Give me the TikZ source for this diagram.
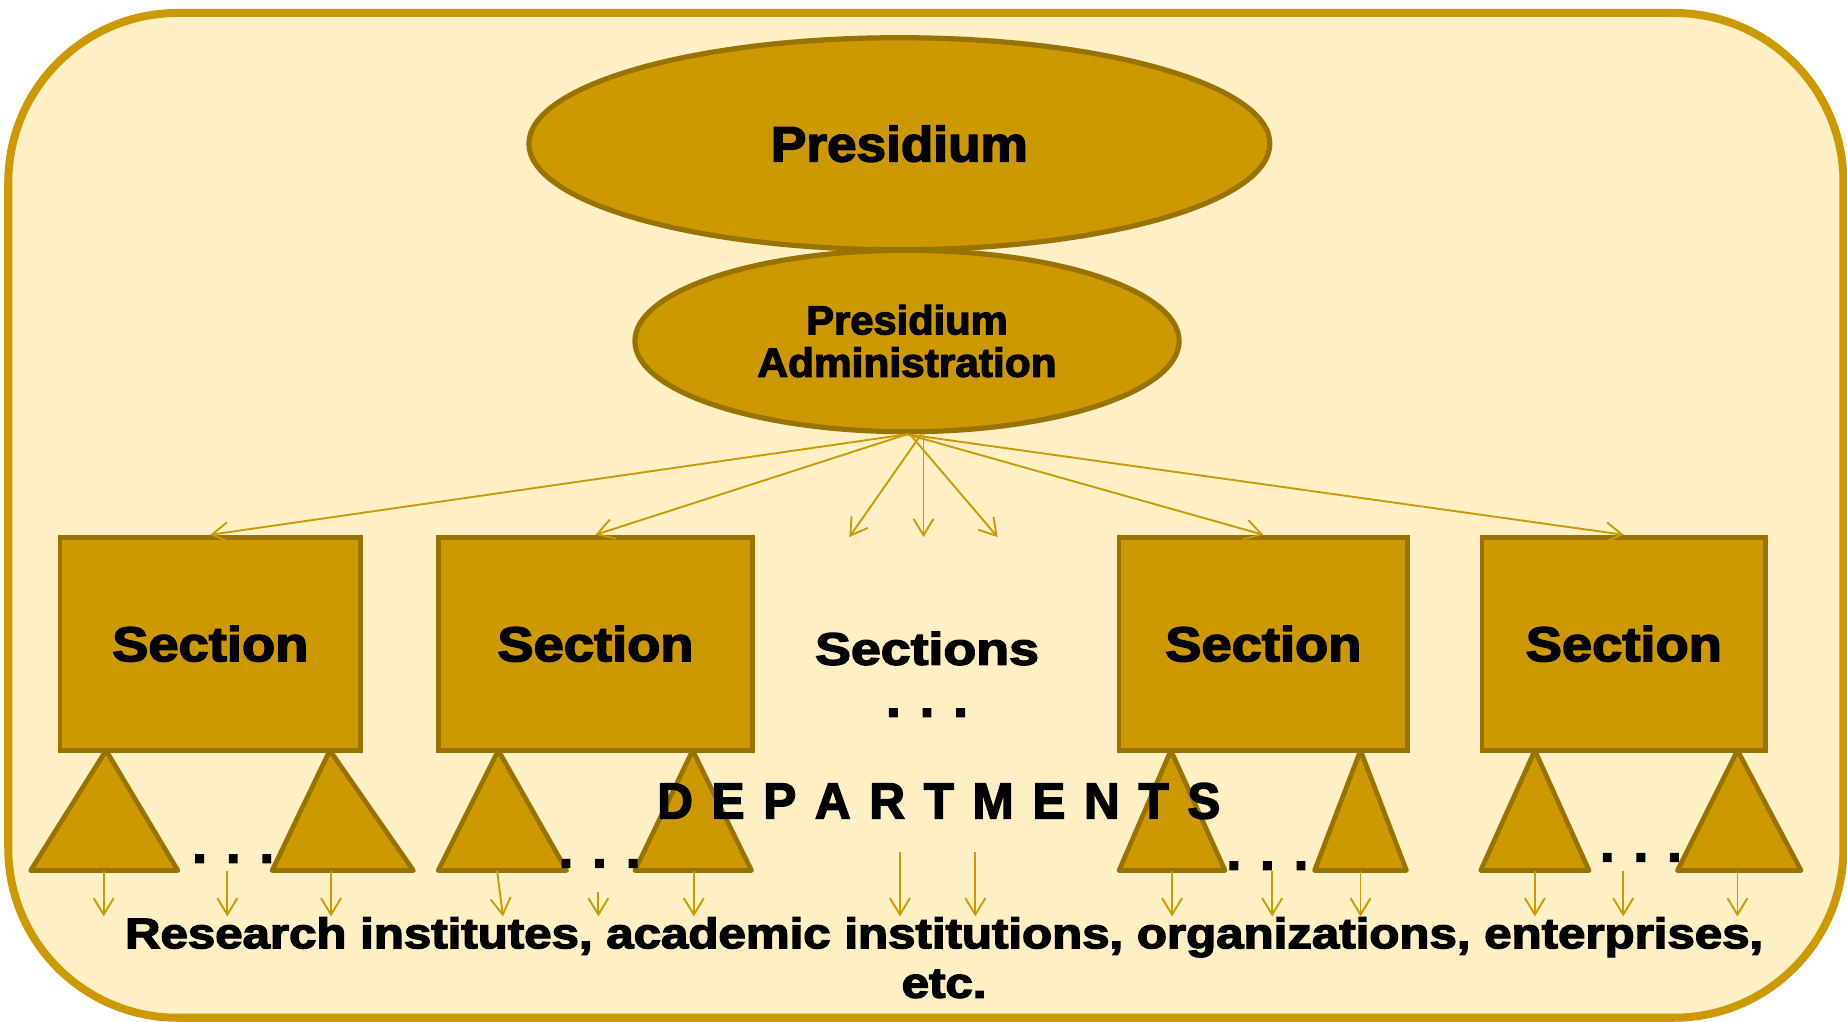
\documentclass[tikz,border=0pt]{standalone}
\usepackage{fontspec}
\usetikzlibrary{shapes.geometric,arrows.meta}
\newfontfamily\heavy[FakeBold=3]{Liberation Sans Bold}
\definecolor{paper}{HTML}{FEF0C4}
\definecolor{gold}{HTML}{CC9900}
\definecolor{umber}{HTML}{997300}
\begin{document}
\begin{tikzpicture}[x=0.5pt,y=-0.5pt,
  oval/.style={ellipse,draw=umber,fill=gold,line width=2.2pt,inner sep=0pt,font=\heavy},
  secbox/.style={rectangle,draw=umber,fill=gold,line width=2pt,inner sep=0pt,
                 minimum height=90.5pt,font=\heavy},
  dept/.style={draw=umber,fill=gold,line width=2pt,line join=round},
  link/.style={draw=gold,line width=0.8pt,-{Straight Barb[length=7pt,width=8.5pt]}},
  lbl/.style={inner sep=0pt,font=\heavy},
  dots/.style={inner sep=0pt,font=\heavy\fontsize{22}{22}\selectfont}]

\useasboundingbox (0,0) rectangle (1568,867);
% outer frame
\draw[gold,fill=paper,line width=3.4pt,rounded corners=72pt] (7,11) rectangle (1565,864);

% top of the hierarchy
\node[oval,minimum width=314.5pt,minimum height=90pt] (pres) at (763.5,122)
  {\resizebox{109pt}{15.25pt}{Presidium}};
\node[oval,minimum width=231pt,minimum height=77pt,align=center,
      font=\heavy\fontsize{15}{18}\selectfont] (adm) at (770,289.5)
  {\resizebox{85.5pt}{12.5pt}{Presidium}\\\resizebox{127pt}{12.5pt}{Administration}};

% sections
\node[secbox,minimum width=127.5pt] (s1) at (178.5,546.5) {\resizebox{83.25pt}{15pt}{Section}};
\node[secbox,minimum width=133.5pt] (s2) at (505.5,546.5) {\resizebox{83.25pt}{15pt}{Section}};
\node[secbox,minimum width=122.5pt] (s3) at (1072.5,546.5) {\resizebox{83.25pt}{15pt}{Section}};
\node[secbox,minimum width=120.5pt] (s4) at (1378.5,546.5) {\resizebox{83.25pt}{15pt}{Section}};
\node[lbl] (secs) at (787,550.5) {\resizebox{95pt}{14pt}{Sections}};
\node[dots] (secdots) at (787,605) {. . .};

% departments under each section
\draw[dept] (26,739) -- (90,637) -- (151,739) -- cycle;
\draw[dept] (231,739) -- (280,637) -- (351,739) -- cycle;
\draw[dept] (372,739) -- (423,637) -- (481,739) -- cycle;
\draw[dept] (539,739) -- (588,637) -- (638,739) -- cycle;
\draw[dept] (950,739) -- (994,637) -- (1040,739) -- cycle;
\draw[dept] (1116,739) -- (1155,637) -- (1194,739) -- cycle;
\draw[dept] (1257,739) -- (1303,637) -- (1349,739) -- cycle;
\draw[dept] (1424,739) -- (1475,637) -- (1529,739) -- cycle;

\node[dots] (g1) at (198,729) {. . .};
\node[dots] (g2) at (509,733) {. . .};
\node[dots] (g3) at (1076,735) {. . .};
\node[dots] (g4) at (1393,728) {. . .};

\node[lbl] (dep) at (797,680)
  {\resizebox{239pt}{15pt}{D\kern.38em E\kern.38em P\kern.38em A\kern.38em R\kern.38em T\kern.38em M\kern.38em E\kern.38em N\kern.38em T\kern.38em S}};

% links from the administration
\draw[link] (adm.south) -- (s1.north);
\draw[link] (adm.south) -- (s2.north);
\draw[link] (adm.south) -- (s3.north);
\draw[link] (adm.south) -- (s4.north);
\coordinate (m1) at (721,456);
\coordinate (m2) at (784,456);
\coordinate (m3) at (847,456);
\draw[link] ([xshift=6pt]adm.south) -- (m1);
\draw[link] ([xshift=7pt]adm.south) -- (m2);
\draw[link] ([xshift=1.25pt]adm.south) -- (m3);

% links down to the institutions
\foreach \x/\y/\u [count=\i] in {88/739/88,193/739/193,281/739/281,422/739/427,
    508/757/508,589/739/589,764/723/764,828/723/828,995/739/995,1080/739/1080,
    1155/739/1155,1303/739/1303,1378/739/1378,1475/739/1475}{
  \coordinate (a\i) at (\x,\y);
  \coordinate (b\i) at (\u,778);
  \draw[link] (a\i) -- (b\i);
}

\node[lbl,align=center,font=\heavy\fontsize{18.15}{21}\selectfont] (inst) at (801.5,813)
  {\scalebox{1.151}[1]{Research institutes, academic institutions, organizations, enterprises,}\\
   \scalebox{1.151}[1]{etc.}};
\end{tikzpicture}
\end{document}
